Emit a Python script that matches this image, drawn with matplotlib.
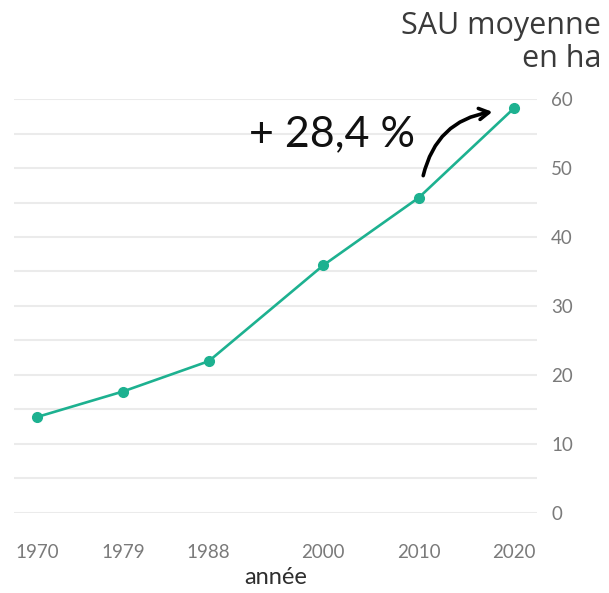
import matplotlib

matplotlib.use("Agg")

import matplotlib.pyplot as plt

# values
years = [1970, 1979, 1988, 2000, 2010, 2020]
sau_moyenne = [13.9, 17.6, 22.0, 35.9, 45.7, 58.7]
y_ticks = [0, 10, 20, 30, 40, 50, 60]
grid_levels = [0, 5, 10, 15, 20, 25, 30, 35, 40, 45, 50, 55, 60]
growth_label = "+ 28,4 %"

LINE_COLOR = "#1db190"
GRID_COLOR = "#ebebeb"
TICK_COLOR = "#7a7a7a"

plt.rcParams["font.family"] = ["Lato", "DejaVu Sans"]

fig = plt.figure(figsize=(6.09, 5.93), dpi=100)
ax = fig.add_axes([0.023, 0.135, 0.859, 0.698])

for level in grid_levels:
    ax.axhline(level, color=GRID_COLOR, lw=1.5, zorder=0)

ax.plot(years, sau_moyenne, color=LINE_COLOR, lw=1.9, marker="o",
        markersize=7, clip_on=False, zorder=3)

ax.set_xlim(1967.6, 2022.4)
ax.set_ylim(0, 60)
ax.set_xticks(years)
ax.set_xticklabels([str(y) for y in years])
ax.set_yticks(y_ticks)
ax.yaxis.tick_right()
ax.tick_params(axis="both", length=0, labelsize=13.5, colors=TICK_COLOR)
ax.tick_params(axis="x", pad=22)
ax.tick_params(axis="y", pad=10)
for label in ax.get_yticklabels():
    label.set_horizontalalignment("left")
for spine in ax.spines.values():
    spine.set_visible(False)

ax.set_xlabel("année", fontsize=17, color="#2e2e2e", labelpad=5)

fig.text(0.987, 0.982, "SAU moyenne\nen ha", ha="right", va="top",
         fontsize=22, color="#3a3a3a", linespacing=1.15, fontweight=500,
         family=["Open Sans", "DejaVu Sans"])

# growth annotation with curved arrow
ax.text(1992.2, 54.9, growth_label, fontsize=31, color="#111111",
        ha="left", va="center")
ax.annotate("", xy=(2018.0, 58.2), xytext=(2010.4, 48.5),
            arrowprops=dict(arrowstyle="->,head_length=0.7,head_width=0.4",
                            connectionstyle="arc3,rad=-0.35", color="black",
                            lw=2.6))

fig.savefig("out.png", dpi=100)
